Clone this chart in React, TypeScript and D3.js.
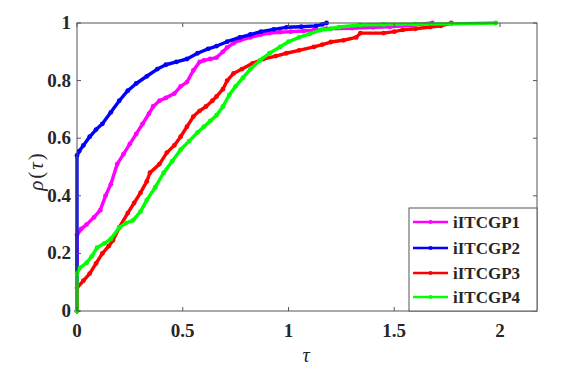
import React from "react";
import * as d3 from "d3";

const WIDTH = 587;
const HEIGHT = 386;
const M = {left: 77, top: 23, right: 537, bottom: 311};

const seriesNames = ["iITCGP1", "iITCGP2", "iITCGP3", "iITCGP4"];
const seriesColors = ["#ff00ff", "#0000ff", "#ff0000", "#00ff00"];

const tau1 = [0, 0, 0.02, 0.045, 0.08, 0.11, 0.135, 0.16, 0.19, 0.22, 0.25, 0.28, 0.31, 0.34, 0.36, 0.39, 0.42, 0.46, 0.49, 0.52, 0.55, 0.58, 0.60, 0.63, 0.66, 0.69, 0.71, 0.74, 0.77, 0.82, 0.87, 0.91, 0.96, 1.01, 1.07, 1.12, 1.18, 1.30, 1.40, 1.48, 1.58, 1.68];
const rho1 = [0, 0.264, 0.285, 0.30, 0.325, 0.35, 0.40, 0.44, 0.51, 0.545, 0.58, 0.615, 0.65, 0.685, 0.71, 0.73, 0.74, 0.755, 0.78, 0.795, 0.835, 0.865, 0.87, 0.875, 0.88, 0.90, 0.915, 0.93, 0.94, 0.95, 0.96, 0.965, 0.968, 0.97, 0.972, 0.975, 0.98, 0.982, 0.985, 0.987, 0.992, 1.0];

const tau2 = [0, 0, 0.01, 0.03, 0.06, 0.09, 0.12, 0.16, 0.20, 0.24, 0.28, 0.33, 0.38, 0.42, 0.47, 0.52, 0.57, 0.62, 0.66, 0.71, 0.77, 0.82, 0.87, 0.93, 0.99, 1.06, 1.13, 1.16, 1.18];
const rho2 = [0, 0.54, 0.555, 0.575, 0.605, 0.63, 0.65, 0.69, 0.73, 0.765, 0.79, 0.815, 0.84, 0.855, 0.865, 0.875, 0.895, 0.91, 0.92, 0.935, 0.95, 0.96, 0.97, 0.978, 0.985, 0.987, 0.99, 0.995, 1.0];

const tau3 = [0, 0, 0.03, 0.06, 0.09, 0.12, 0.15, 0.17, 0.20, 0.24, 0.27, 0.30, 0.33, 0.345, 0.39, 0.425, 0.46, 0.49, 0.52, 0.55, 0.58, 0.61, 0.64, 0.66, 0.69, 0.71, 0.74, 0.78, 0.83, 0.88, 0.94, 0.99, 1.05, 1.12, 1.16, 1.20, 1.26, 1.32, 1.34, 1.45, 1.50, 1.54, 1.60, 1.67, 1.72, 1.77];
const rho3 = [0, 0.08, 0.105, 0.13, 0.165, 0.20, 0.225, 0.245, 0.29, 0.34, 0.375, 0.41, 0.45, 0.48, 0.51, 0.55, 0.575, 0.605, 0.64, 0.675, 0.695, 0.71, 0.73, 0.745, 0.77, 0.80, 0.825, 0.84, 0.86, 0.875, 0.885, 0.895, 0.905, 0.917, 0.925, 0.934, 0.94, 0.95, 0.965, 0.965, 0.97, 0.976, 0.98, 0.986, 0.99, 1.0];

const tau4 = [0, 0, 0.014, 0.045, 0.07, 0.095, 0.13, 0.16, 0.20, 0.23, 0.265, 0.30, 0.33, 0.37, 0.41, 0.45, 0.49, 0.53, 0.57, 0.60, 0.63, 0.66, 0.69, 0.72, 0.75, 0.785, 0.82, 0.865, 0.91, 0.96, 1.00, 1.05, 1.10, 1.15, 1.20, 1.24, 1.34, 1.45, 1.60, 1.77, 1.98];
const rho4 = [0, 0.13, 0.15, 0.167, 0.19, 0.22, 0.235, 0.25, 0.29, 0.305, 0.315, 0.345, 0.385, 0.43, 0.48, 0.52, 0.56, 0.59, 0.62, 0.64, 0.66, 0.68, 0.71, 0.75, 0.78, 0.81, 0.84, 0.87, 0.895, 0.917, 0.935, 0.95, 0.962, 0.975, 0.98, 0.986, 0.993, 0.995, 0.996, 0.997, 1.0];

const xTicks = [0, 0.5, 1, 1.5, 2];
const yTicks = [0, 0.2, 0.4, 0.6, 0.8, 1];

const AXIS = "#555";
const TEXT = "#262626";
const FONT = "'Liberation Serif', 'Times New Roman', serif";

export default function App() {
    const x = d3.scaleLinear().domain([0, 2.175]).range([M.left, M.right]);
    const y = d3.scaleLinear().domain([0, 1]).range([M.bottom, M.top]);

    const series = [
        {tau: tau1, rho: rho1},
        {tau: tau2, rho: rho2},
        {tau: tau3, rho: rho3},
        {tau: tau4, rho: rho4},
    ];

    const lineGen = (t: number[], r: number[]) =>
        d3.line<number>()
            .x((i) => x(t[i]))
            .y((i) => y(r[i]))(t.map((_, i) => i)) || "";

    const legendX = 409;
    const legendY = 208;
    const legendRows = [222, 248, 273, 297];

    return (
        <svg width={WIDTH} height={HEIGHT} style={{position: "absolute", left: 0, top: 0, background: "#fff"}}>
            {series.map((s, k) => (
                <g key={k}>
                    <path d={lineGen(s.tau, s.rho)} fill="none" stroke={seriesColors[k]} strokeWidth={3.4}
                          strokeLinejoin="round"/>
                    {s.tau.map((t, i) => (
                        <circle key={i} cx={x(t)} cy={y(s.rho[i])} r={2.4} fill={seriesColors[k]}/>
                    ))}
                </g>
            ))}

            {/* frame */}
            <rect x={M.left} y={M.top} width={M.right - M.left} height={M.bottom - M.top}
                  fill="none" stroke={AXIS} strokeWidth={1}/>

            {xTicks.map((t) => (
                <g key={"x" + t}>
                    <line x1={x(t)} x2={x(t)} y1={M.bottom} y2={M.bottom - 4} stroke={AXIS}/>
                    <line x1={x(t)} x2={x(t)} y1={M.top} y2={M.top + 4} stroke={AXIS}/>
                    <text x={x(t)} y={M.bottom + 26} textAnchor="middle" fontFamily={FONT} fontWeight="bold"
                          fontSize={19} fill={TEXT}>{d3.format("~g")(t)}</text>
                </g>
            ))}
            {yTicks.map((t) => (
                <g key={"y" + t}>
                    <line x1={M.left} x2={M.left + 4} y1={y(t)} y2={y(t)} stroke={AXIS}/>
                    <line x1={M.right} x2={M.right - 4} y1={y(t)} y2={y(t)} stroke={AXIS}/>
                    <text x={M.left - 6} y={y(t) + 6} textAnchor="end" fontFamily={FONT} fontWeight="bold"
                          fontSize={19} fill={TEXT}>{d3.format("~g")(t)}</text>
                </g>
            ))}

            <text x={306} y={362} textAnchor="middle" fontFamily={FONT} fontStyle="italic" fontSize={20}
                  fill={TEXT}>τ</text>
            <text transform={`translate(43, 171) rotate(-90)`} textAnchor="middle"
                  fontFamily={FONT} fontSize={21} letterSpacing={2} fill={TEXT}>
                <tspan fontStyle="italic">ρ</tspan>(<tspan fontStyle="italic">τ</tspan>)
            </text>

            {/* legend */}
            <rect x={legendX} y={legendY} width={M.right - legendX} height={M.bottom - legendY}
                  fill="#fff" stroke={AXIS} strokeWidth={1}/>
            {seriesNames.map((n, k) => (
                <g key={n}>
                    <line x1={413} x2={448} y1={legendRows[k]} y2={legendRows[k]} stroke={seriesColors[k]}
                          strokeWidth={2.5}/>
                    <circle cx={430.5} cy={legendRows[k]} r={2} fill={seriesColors[k]}/>
                    <text x={453} y={legendRows[k] + 6} fontFamily={FONT} fontWeight="bold" fontSize={17}
                          fill={TEXT}>{n}</text>
                </g>
            ))}
        </svg>
    );
}
